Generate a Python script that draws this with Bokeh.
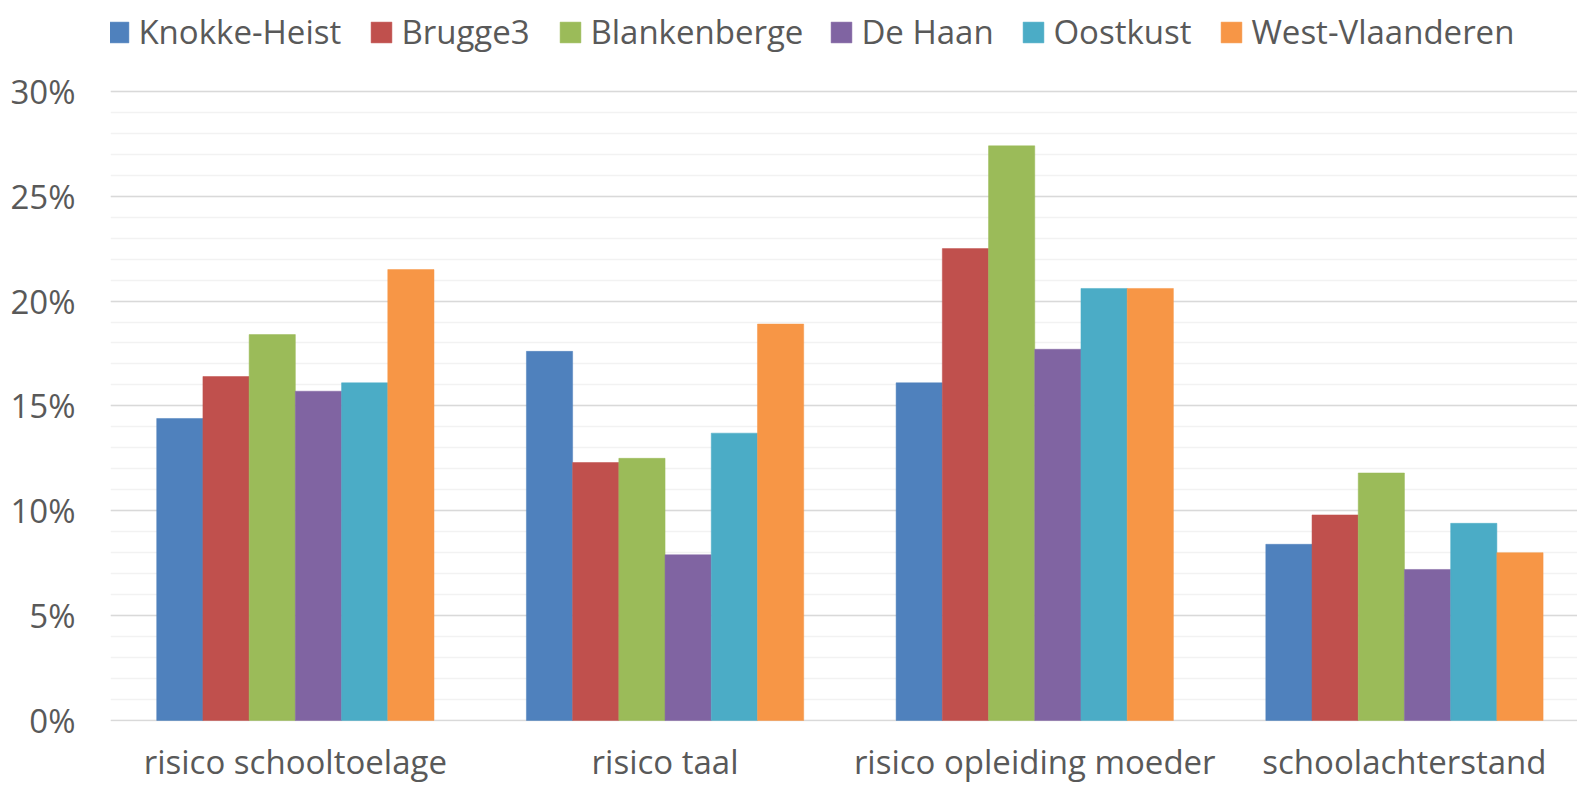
from bokeh.plotting import figure
from bokeh.models import (Range1d, FixedTicker, PrintfTickFormatter,
                          Legend, LegendItem, ColumnDataSource)
from bokeh.embed import file_html
from bokeh.resources import INLINE

categories = ["risico schooltoelage", "risico taal", "risico opleiding moeder", "schoolachterstand"]
series = ["Knokke-Heist", "Brugge3", "Blankenberge", "De Haan", "Oostkust", "West-Vlaanderen"]
knokke_heist = [14.4, 17.6, 16.1, 8.4]
brugge3 = [16.4, 12.3, 22.5, 9.8]
blankenberge = [18.4, 12.5, 27.4, 11.8]
de_haan = [15.7, 7.9, 17.7, 7.2]
oostkust = [16.1, 13.7, 20.6, 9.4]
west_vlaanderen = [21.5, 18.9, 20.6, 8.0]
y_ticks = [0, 5, 10, 15, 20, 25, 30]
y_minor = list(range(0, 31))

values = [knokke_heist, brugge3, blankenberge, de_haan, oostkust, west_vlaanderen]
colors = ["#4F81BD", "#C0504D", "#9BBB59", "#8064A2", "#4BACC6", "#F79646"]

# layout: left edge (page px) of each legend swatch
legend_swatch_left = [108, 371, 560, 831, 1023, 1221]

FONT = "Open Sans"
TXT = "#595959"
FS = "33px"

px_per_unit = 629 / 30.0
y_lo, y_hi = -0.05, 33.95
frame_w = 1467
frame_h = int(round((y_hi - y_lo) * px_per_unit))
cat_px = 369.7
top_b, left_b = 8, 110
bot_b = 785 - top_b - frame_h
p = figure(width=left_b + frame_w, height=top_b + frame_h + bot_b,
           frame_width=frame_w, frame_height=frame_h,
           min_border_left=left_b, min_border_right=0, min_border_top=top_b, min_border_bottom=bot_b,
           x_range=Range1d(0, frame_w / cat_px), y_range=Range1d(y_lo, y_hi),
           output_backend="svg", toolbar_location=None, tools="")
p.outline_line_color = None
p.background_fill_color = "white"
p.border_fill_color = "white"

centers = [i + 0.5 for i in range(len(categories))]
bw = 0.125
GLYPH = 26
for k, (name, vals, col) in enumerate(zip(series, values, colors)):
    src = ColumnDataSource(dict(x=[c + (k - 2.5) * bw for c in centers], top=vals))
    r = p.vbar(x="x", top="top", bottom=0, width=bw, source=src,
               fill_color=col, line_color=col, line_width=0.5)
    lg = Legend(items=[LegendItem(label=name, renderers=[r])],
                location=(legend_swatch_left[k] - 0.1 * GLYPH - left_b, frame_h - 46),
                margin=0, padding=0, label_standoff=7,
                glyph_width=GLYPH, glyph_height=GLYPH,
                label_text_font=FONT, label_text_font_size=FS, label_text_color=TXT,
                border_line_color=None, background_fill_alpha=0)
    p.add_layout(lg, "center")

# y axis
yax = p.yaxis[0]
yax.ticker = FixedTicker(ticks=y_ticks, minor_ticks=y_minor)
yax.formatter = PrintfTickFormatter(format="%d%%")
yax.axis_line_color = None
yax.major_tick_line_color = None
yax.minor_tick_line_color = None
yax.major_label_text_font = FONT
yax.major_label_text_font_size = FS
yax.major_label_text_color = TXT
yax.major_label_standoff = 29

# x axis
xax = p.xaxis[0]
xax.ticker = FixedTicker(ticks=centers)
xax.major_label_overrides = {c: cat for c, cat in zip(centers, categories)}
xax.axis_line_color = None
xax.major_tick_line_color = None
xax.minor_tick_line_color = None
xax.major_label_text_font = FONT
xax.major_label_text_font_size = FS
xax.major_label_text_color = TXT
xax.major_label_standoff = 11

p.xgrid.grid_line_color = None
p.ygrid.grid_line_color = "#D9D9D9"
p.ygrid.grid_line_width = 1.5
p.ygrid.minor_grid_line_color = "#F2F2F2"
p.ygrid.minor_grid_line_width = 1.5

open("out.html", "w").write(file_html(p, INLINE))
